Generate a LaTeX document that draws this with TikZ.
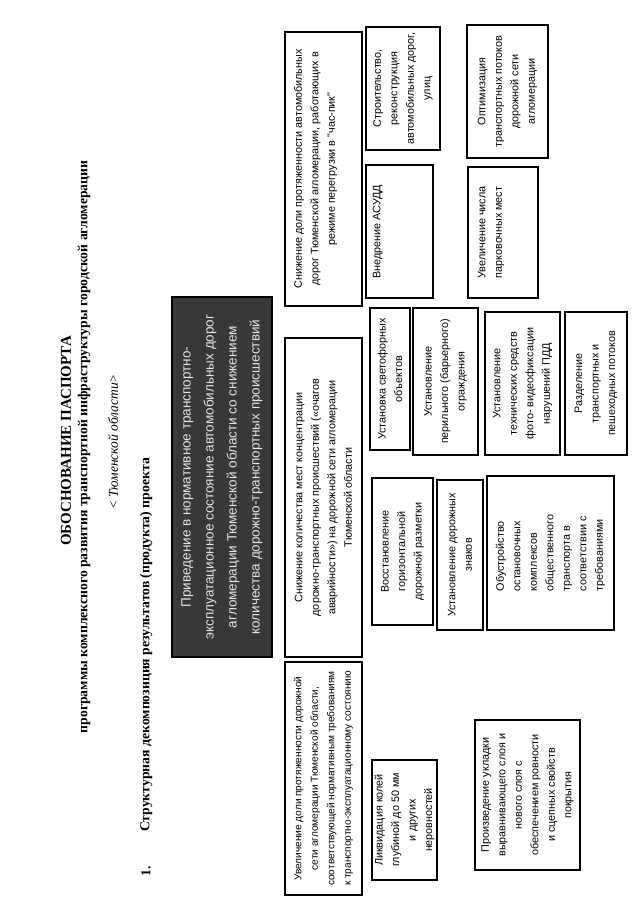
\documentclass[tikz,border=0pt]{standalone}
\usepackage{fontspec}
\setmainfont{Liberation Serif}
\newfontfamily\boxfont{Liberation Sans}
\newcommand\mybox[7][]{%
  \pgfmathsetmacro\bw{#6-#4}%
  \pgfmathsetmacro\bh{#5-#3}%
  \pgfmathsetmacro\cx{(#3+#5)/2}%
  \pgfmathsetmacro\cy{(#4+#6)/2}%
  \node[boxst,minimum width=\bw pt,minimum height=\bh pt,#1] (#2) at (\cx,\cy) {#7};}
\begin{document}
\begin{tikzpicture}[x=1pt,y=-1pt,
  boxst/.style={draw=black,line width=1.5pt,rotate=90,align=center,inner sep=0pt,
    font=\boxfont\fontsize{10.8}{16.5}\selectfont},
  darkst/.style={fill=black!78,text=black!10,font=\boxfont\fontsize{13.5}{23}\selectfont},
  ttl/.style={rotate=90,inner sep=0pt}]
\useasboundingbox (0,0) rectangle (640,905);
\fill[white] (0,0) rectangle (640,905);
% titles
\node[ttl,font=\bfseries\fontsize{15}{18}\selectfont] (t1) at (66,441) {ОБОСНОВАНИЕ ПАСПОРТА};
\node[ttl,font=\bfseries\fontsize{13.7}{16}\selectfont] (t2) at (84,447) {программы комплексного развития транспортной инфраструктуры городской агломерации};
\node[ttl,font=\itshape\fontsize{13.5}{16}\selectfont] (t3) at (113,442) {< Тюменской области>};
\node[ttl,font=\bfseries\fontsize{13.7}{16}\selectfont] (t4) at (146,645) {Структурная декомпозиция результатов (продукта) проекта};
\node[ttl,font=\bfseries\fontsize{13.7}{16}\selectfont] (t5) at (146,871) {1.};
% dark box
\mybox[darkst]{dk}{172}{297}{272}{657}{Приведение в нормативное транспортно-\\эксплуатационное состояние автомобильных дорог\\агломерации Тюменской области со снижением\\количества дорожно-транспортных происшествий}
% row 1
\mybox[text depth=18pt]{ra}{285}{32}{362}{306}{Снижение доли протяженности автомобильных\\дорог Тюменской агломерации, работающих в\\режиме перегрузки в "час-пик"}
\mybox{rb}{285}{338}{362}{657}{Снижение количества мест концентрации\\дорожно-транспортных происшествий («очагов\\аварийности») на дорожной сети агломерации\\Тюменской области}
\mybox[font=\boxfont\fontsize{10.1}{16.5}\selectfont]{rc}{285}{662}{362}{895}{Увеличение доли протяженности дорожной\\сети агломерации Тюменской области,\\соответствующей нормативным требованиям\\к транспортно-эксплуатационному состоянию}
% under A
\mybox{stroi}{366}{27}{440}{150}{Строительство,\\реконструкция\\автомобильных дорог,\\улиц}
\mybox[text depth=46pt]{asudd}{366}{165}{433}{298}{Внедрение АСУДД}
\mybox{optim}{467}{25}{548}{158}{Оптимизация\\транспортных потоков\\дорожной сети\\агломерации}
\mybox[text depth=26pt]{park}{468}{167}{538}{298}{Увеличение числа\\парковочных мест}
% under B
\mybox{svet}{370}{308}{410}{450}{Установка светофорных\\объектов}
\mybox{peril}{413}{308}{478}{455}{Установление\\перильного (барьерного)\\ограждения}
\mybox{tehn}{485}{312}{560}{455}{Установление\\технических средств\\фото- видеофиксации\\нарушений ПДД}
\mybox{razd}{565}{312}{627}{455}{Разделение\\транспортных и\\пешеходных потоков}
\mybox{vosst}{372}{478}{433}{625}{Восстановление\\горизонтальной\\дорожной разметки}
\mybox{znak}{437}{480}{483}{630}{Установление дорожных\\знаков}
\mybox[align=left]{obustr}{487}{476}{614}{630}{Обустройство\\остановочных\\комплексов\\общественного\\транспорта в\\соответствии с\\требованиями}
% under C
\mybox{likv}{372}{760}{437}{880}{Ликвидация колей\\глубиной до 50 мм\\и других\\неровностей}
\mybox{proizv}{475}{720}{580}{870}{Произведение укладки\\выравнивающего слоя и\\нового слоя с\\обеспечением ровности\\и сцепных свойств\\покрытия}
\end{tikzpicture}
\end{document}
